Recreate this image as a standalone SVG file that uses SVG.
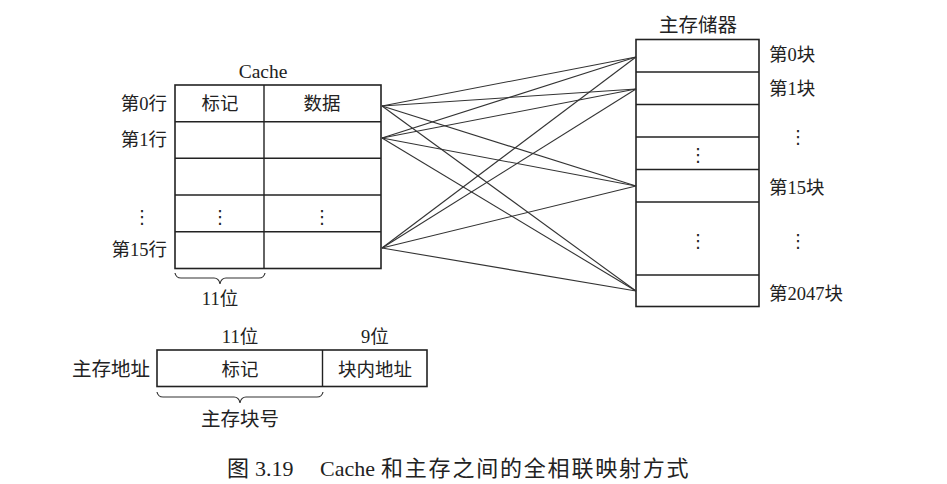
<svg xmlns="http://www.w3.org/2000/svg" width="947" height="484" viewBox="0 0 947 484">
<style>
.t{font-family:"Liberation Serif","Noto Sans CJK SC",serif;font-size:18.5px;fill:#222}
.m{text-anchor:middle}
.e{text-anchor:end}
.v{font-family:"DejaVu Sans",sans-serif;font-size:18px;fill:#222;text-anchor:middle}
.box{fill:#fff;stroke:#222;stroke-width:1.6}
.ln{stroke:#222;stroke-width:1.4;fill:none}
.cn{stroke:#333;stroke-width:1.1;fill:none}
.br{stroke:#333;stroke-width:1.2;fill:none}
.cap{font-size:22px}
</style>
<rect width="947" height="484" fill="#fff"/>
<g id="cache">
<text class="t m" x="263" y="78" style="font-size:19.5px">Cache</text>
<rect class="box" x="175" y="85" width="206" height="183.5"/>
<line class="ln" x1="264" y1="85" x2="264" y2="268.5"/>
<line class="ln" x1="175" y1="121.7" x2="381" y2="121.7"/>
<line class="ln" x1="175" y1="158.3" x2="381" y2="158.3"/>
<line class="ln" x1="175" y1="195" x2="381" y2="195"/>
<line class="ln" x1="175" y1="231.7" x2="381" y2="231.7"/>
<text class="t m" x="220" y="110">标记</text>
<text class="t m" x="322" y="110">数据</text>
<text class="v" x="220" y="223">⋮</text>
<text class="v" x="322" y="223">⋮</text>
<text class="t e" x="167" y="110">第0行</text>
<text class="t e" x="167" y="146">第1行</text>
<text class="v" x="142" y="223">⋮</text>
<text class="t e" x="167" y="256">第15行</text>
<path class="br" d="M175,273 Q176,278 181,278 L214,278 Q219,278 220,284 Q221,278 226,278 L259,278 Q264,278 265,273"/>
<text class="t m" x="220" y="305">11位</text>
</g>
<g id="memory">
<text class="t m" x="698" y="32" style="font-size:19.5px">主存储器</text>
<rect class="box" x="636" y="39.5" width="123" height="267"/>
<line class="ln" x1="636" y1="72" x2="759" y2="72"/>
<line class="ln" x1="636" y1="104.5" x2="759" y2="104.5"/>
<line class="ln" x1="636" y1="137" x2="759" y2="137"/>
<line class="ln" x1="636" y1="169.5" x2="759" y2="169.5"/>
<line class="ln" x1="636" y1="202" x2="759" y2="202"/>
<line class="ln" x1="636" y1="275" x2="759" y2="275"/>
<text class="v" x="698" y="161">⋮</text>
<text class="v" x="698" y="247">⋮</text>
<text class="t" x="769" y="61">第0块</text>
<text class="t" x="769" y="95">第1块</text>
<text class="v" x="798" y="143">⋮</text>
<text class="t" x="769" y="194">第15块</text>
<text class="v" x="798" y="247">⋮</text>
<text class="t" x="769" y="300">第2047块</text>
</g>
<g id="connectors">
<line class="cn" x1="382" y1="106" x2="636" y2="57"/>
<line class="cn" x1="382" y1="106" x2="636" y2="89"/>
<line class="cn" x1="382" y1="106" x2="636" y2="186"/>
<line class="cn" x1="382" y1="106" x2="636" y2="291"/>
<line class="cn" x1="382" y1="138" x2="636" y2="57"/>
<line class="cn" x1="382" y1="138" x2="636" y2="89"/>
<line class="cn" x1="382" y1="138" x2="636" y2="186"/>
<line class="cn" x1="382" y1="138" x2="636" y2="291"/>
<line class="cn" x1="382" y1="248" x2="636" y2="57"/>
<line class="cn" x1="382" y1="248" x2="636" y2="89"/>
<line class="cn" x1="382" y1="248" x2="636" y2="186"/>
<line class="cn" x1="382" y1="248" x2="636" y2="291"/>
</g>
<g id="address">
<text class="t" x="72" y="376" style="font-size:19.5px">主存地址</text>
<text class="t m" x="240" y="343">11位</text>
<text class="t m" x="375" y="343">9位</text>
<rect class="box" x="157" y="350" width="270" height="36.5"/>
<line class="ln" x1="322.5" y1="350" x2="322.5" y2="386.5"/>
<text class="t m" x="240" y="376">标记</text>
<text class="t m" x="375" y="376">块内地址</text>
<path class="br" d="M157,392 Q158,397 163,397 L234,397 Q239,397 240,403 Q241,397 246,397 L317,397 Q322,397 323,392"/>
<text class="t m" x="240" y="426" style="font-size:19.5px">主存块号</text>
</g>
<g id="caption">
<text class="t cap" x="227" y="476">图</text>
<text class="t cap" x="255" y="476">3.19</text>
<text class="t cap" x="320" y="476">Cache</text>
<text class="t cap" x="381" y="476" style="letter-spacing:1.8px">和主存之间的全相联映射方式</text>
</g>
</svg>
